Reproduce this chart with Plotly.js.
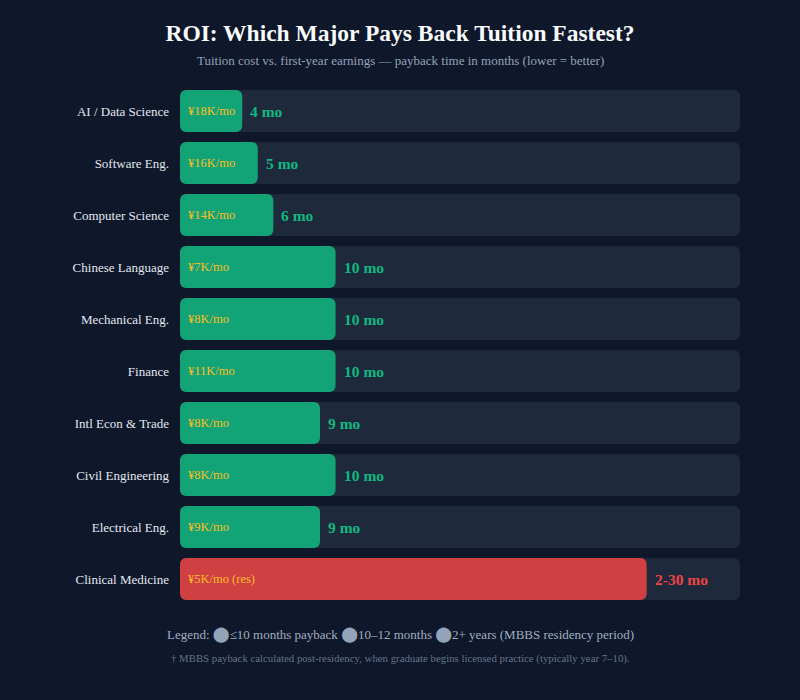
<!DOCTYPE html>
<html>
<head>
<meta charset="utf-8">
<script src="https://cdn.plot.ly/plotly-3.0.1.min.js"></script>
<style>
  html, body { margin: 0; padding: 0; background: #0f172a; }
  #chart { width: 800px; height: 700px; }
</style>
</head>
<body>
<div id="chart"></div>
<script>

// data
var majors = ['AI / Data Science', 'Software Eng.', 'Computer Science', 'Chinese Language',
              'Mechanical Eng.', 'Finance', 'Intl Econ & Trade', 'Civil Engineering',
              'Electrical Eng.', 'Clinical Medicine']
var paybackMonths = [4, 5, 6, 10, 10, 10, 9, 10, 9, 30]
var salaryLabels = ['¥18K/mo', '¥16K/mo', '¥14K/mo', '¥7K/mo', '¥8K/mo', '¥11K/mo',
                    '¥8K/mo', '¥8K/mo', '¥9K/mo', '¥5K/mo (res)']
var paybackLabels = ['4 mo', '5 mo', '6 mo', '10 mo', '10 mo', '10 mo', '9 mo', '10 mo', '9 mo', '2-30 mo']
var isMedicine = [false, false, false, false, false, false, false, false, false, true]
var axisMax = 36

var FONT = '"Liberation Serif", "DejaVu Serif", serif'
var GREEN = '#10b981', RED = '#ef4444', GOLD = '#fbbf24'
var BAR_GREEN = '#12a376', BAR_RED = '#d04043'   // 85% over the track colour

// paper x that puts text at the page centre (plot area is 180..740)
var midX = (400 - 180) / 560

var zeros = majors.map(function () { return 0 })

var track = {
    type: 'bar',
    orientation: 'h',
    y: majors,
    x: majors.map(function () { return axisMax }),
    base: zeros,
    marker: {color: '#1e293b', cornerradius: 6},
    hoverinfo: 'skip',
}

var bars = {
    type: 'bar',
    orientation: 'h',
    y: majors,
    x: paybackMonths,
    base: zeros,
    marker: {
        color: isMedicine.map(function (m) { return m ? BAR_RED : BAR_GREEN }),
        cornerradius: 6,
    },
    hoverinfo: 'skip',
}

var annotations = []
for (var i = 0; i < majors.length; i++) {
    // salary text inside the bar
    annotations.push({
        x: 0, y: majors[i], xref: 'x', yref: 'y',
        text: salaryLabels[i], showarrow: false,
        xanchor: 'left', xshift: 6,
        font: {family: FONT, size: 12.5, color: GOLD},
    })
    // payback label after the bar
    annotations.push({
        x: paybackMonths[i], y: majors[i], xref: 'x', yref: 'y',
        text: '<b>' + paybackLabels[i] + '</b>', showarrow: false,
        xanchor: 'left', xshift: 6,
        font: {family: FONT, size: 15.5, color: isMedicine[i] ? RED : GREEN},
    })
}

annotations.push({
    xref: 'paper', yref: 'paper', x: midX, y: 1, yshift: 34, xanchor: 'center',
    showarrow: false,
    text: 'Tuition cost vs. first-year earnings — payback time in months (lower = better)',
    font: {family: FONT, size: 13, color: '#94a3b8'},
})

var dot = "<span style='font-family:DejaVu Sans;font-size:15px;color:#94a3b8'>⬤</span>"
annotations.push({
    xref: 'paper', yref: 'paper', x: midX, y: 0, yshift: -40, xanchor: 'center',
    showarrow: false,
    text: 'Legend: ' + dot + '≤10 months payback ' + dot + '10–12 months ' + dot + '2+ years (MBBS residency period)',
    font: {family: FONT, size: 13, color: '#a0aec0'},
})
annotations.push({
    xref: 'paper', yref: 'paper', x: midX, y: 0, yshift: -62, xanchor: 'center',
    showarrow: false,
    text: '† MBBS payback calculated post-residency, when graduate begins licensed practice (typically year 7–10).',
    font: {family: FONT, size: 10.8, color: '#64748b'},
})

var layout = {
    width: 800,
    height: 700,
    paper_bgcolor: '#0f172a',
    plot_bgcolor: '#0f172a',
    barmode: 'overlay',
    bargap: 0.19,
    showlegend: false,
    margin: {l: 180, r: 60, t: 85, b: 95},
    title: {
        text: '<b>ROI: Which Major Pays Back Tuition Fastest?</b>',
        x: 0.5, xanchor: 'center', y: 0.953, yanchor: 'middle',
        font: {family: FONT, size: 23.5, color: '#f8fafc'},
    },
    xaxis: {
        range: [0, axisMax],
        visible: false,
        fixedrange: true,
    },
    yaxis: {
        autorange: 'reversed',
        showgrid: false,
        zeroline: false,
        showline: false,
        ticks: '',
        ticklabelstandoff: 10,
        tickfont: {family: FONT, size: 13, color: '#e2e8f0'},
        fixedrange: true,
    },
    annotations: annotations,
}

Plotly.newPlot('chart', [track, bars], layout, {displayModeBar: false, staticPlot: true})

</script>
</body>
</html>
